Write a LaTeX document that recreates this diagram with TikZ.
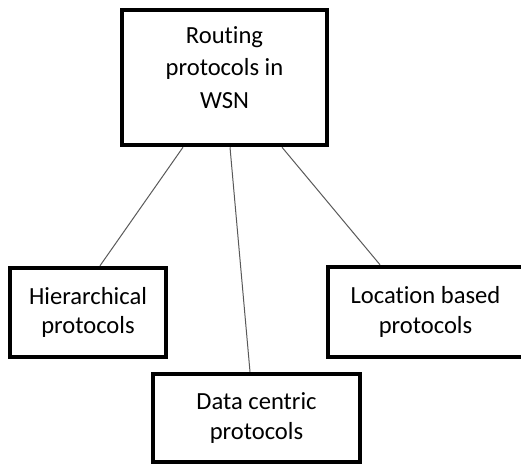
\documentclass[tikz,border=0pt]{standalone}
\usepackage{fontspec}
\setmainfont{Carlito}[Ligatures=NoCommon]
\usepackage{tikz}

\begin{document}
\begin{tikzpicture}[x=1pt,y=-1pt]
    \tikzset{box/.style = {shape=rectangle, draw=black, line width=4.5pt, align=center,
                           font=\fontsize{24.6}{29.5}\selectfont}}
    \tikzset{edge/.style = {draw=black!65, line width=1pt, -}}
    \useasboundingbox (0,0) rectangle (521,464);

    % boxes
    \node[box, minimum width=205pt, minimum height=135pt] (wsn) at (224.5,77.5) {};
    \node[align=center, font=\fontsize{24.6}{32.5}\selectfont] (wsntxt) at (224.5,67.5) {Routing\\protocols in\\WSN};
    \node[box, minimum width=156pt, minimum height=89pt] (hier) at (88,312.5) {Hierarchical\\protocols};
    \node[box, minimum width=207pt, minimum height=88pt] (data) at (256.5,418) {Data centric\\protocols};
    \node[box, minimum width=195pt, minimum height=90pt] (loc) at (425.5,312) {Location based\\protocols};

    % edges
    \draw [edge] ([xshift=-41.5pt]wsn.south) -- ([xshift=12pt]hier.north);
    \draw [edge] ([xshift=5.5pt]wsn.south) -- ([xshift=-6.5pt]data.north);
    \draw [edge] ([xshift=57.5pt]wsn.south) -- ([xshift=-45.5pt]loc.north);
\end{tikzpicture}
\end{document}
